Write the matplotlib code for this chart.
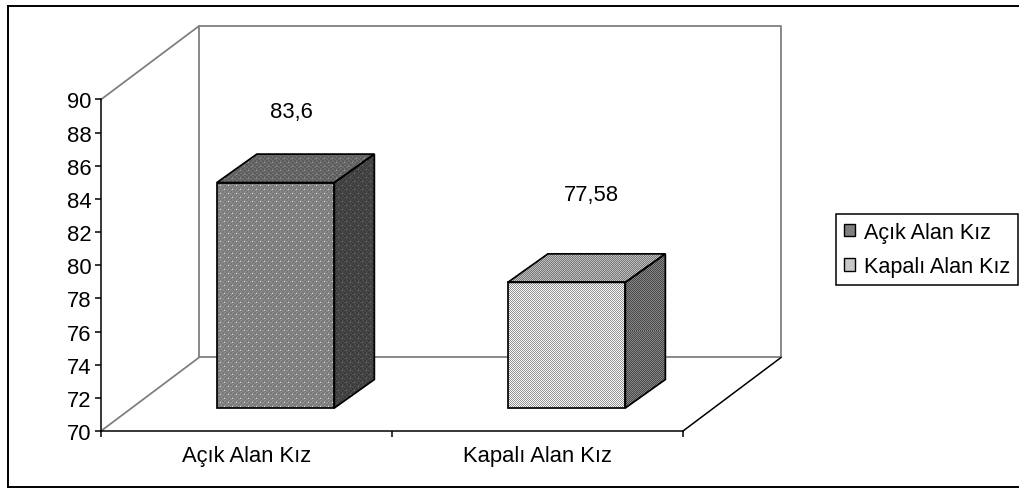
import numpy as np
import matplotlib
matplotlib.use("Agg")
import matplotlib.pyplot as plt
from matplotlib.lines import Line2D
from matplotlib.patches import Patch, Polygon

categories = ["Açık Alan Kız", "Kapalı Alan Kız"]
values = [83.6, 77.58]
value_labels = ["83,6", "77,58"]
y_ticks = [70, 72, 74, 76, 78, 80, 82, 84, 86, 88, 90]

W, H = 1019, 489
AX_L, AX_R, AX_T, AX_B = 101, 683, 100.5, 432
C_WALL = "#808080"
C_LINE = "#000000"

# 3D look, in pixels
PX_X = (AX_R - AX_L) / 2
PX_Y = (AX_B - AX_T) / 20
WALL_DX, WALL_DY = 98 / PX_X, 73.5 / PX_Y
BAR_DX, BAR_DY = 40 / PX_X, 28.5 / PX_Y
BAR_W = 117.5 / PX_X
BAR_SHIFT = 0.1
BAR_LIFT = 23 / PX_Y
LABEL_OFFSET = [(16, 71), (25, 88)]

plt.rcParams.update({
    "font.family": "Liberation Sans", "font.size": 15.8,
})


def stipple(h, w, base, alt, dot):
    # gray weave with staggered light dots
    yy, xx = np.mgrid[0:h, 0:w]
    tex = np.where((xx // 2 + yy // 2) % 2 == 0, base, alt).astype(float)
    tex[(yy % 4 == 0) & (xx % 8 == yy % 8)] = dot
    return tex


def checker(h, w, low, high):
    yy, xx = np.mgrid[0:h, 0:w]
    tex = np.where((xx + yy) % 2 == 0, high, low).astype(float)
    return tex


def face(ax, verts, tex_fn, *args):
    # polygon filled with a pixel texture, then outlined
    verts = np.array(verts)
    # snap the image extent to whole pixels so the texture is not resampled
    px0 = np.floor(verts[:, 0].min() * PX_X)
    px1 = np.ceil(verts[:, 0].max() * PX_X)
    py0 = np.floor((verts[:, 1].min() - 70) * PX_Y)
    py1 = np.ceil((verts[:, 1].max() - 70) * PX_Y)
    extent = (px0 / PX_X, px1 / PX_X, 70 + py0 / PX_Y, 70 + py1 / PX_Y)
    outline = Polygon(verts, closed=True, fc="none", ec=C_LINE, lw=1.25,
                      joinstyle="miter", clip_on=False, zorder=5)
    ax.add_patch(outline)
    im = ax.imshow(tex_fn(int(py1 - py0), int(px1 - px0), *args), cmap="gray", vmin=0, vmax=255,
                   extent=extent, aspect="auto",
                   interpolation="nearest", zorder=4)
    im.set_clip_path(Polygon(verts, closed=True, transform=ax.transData))


def draw_bar(ax, x, val, front, top, side):
    x0, x1 = x - BAR_W / 2, x + BAR_W / 2
    y0, y1 = 70 + BAR_LIFT, val + BAR_LIFT
    face(ax, [(x1, y0), (x1 + BAR_DX, y0 + BAR_DY), (x1 + BAR_DX, y1 + BAR_DY), (x1, y1)], *side)
    face(ax, [(x0, y1), (x0 + BAR_DX, y1 + BAR_DY), (x1 + BAR_DX, y1 + BAR_DY), (x1, y1)], *top)
    face(ax, [(x0, y0), (x1, y0), (x1, y1), (x0, y1)], *front)


fig = plt.figure(figsize=(W / 100, H / 100), dpi=100, facecolor="white")

# outer frame, open on the right
frame = dict(color=C_LINE, lw=1.4, transform=fig.transFigure)
fig.add_artist(Line2D([8 / W, 8 / W], [1 - 7 / H, 1 - 488 / H], **frame))
fig.add_artist(Line2D([8 / W, 1], [1 - 7 / H, 1 - 7 / H], **frame))
fig.add_artist(Line2D([8 / W, 1], [1 - 488 / H, 1 - 488 / H], **frame))

ax = fig.add_axes([AX_L / W, 1 - AX_B / H, (AX_R - AX_L) / W, (AX_B - AX_T) / H])
ax.patch.set_visible(False)

# back walls and floor
wall = dict(color=C_WALL, lw=1.3, clip_on=False, zorder=1)
ax.plot([0, WALL_DX, WALL_DX, 0], [70, 70 + WALL_DY, 90 + WALL_DY, 90], **wall)
ax.plot([WALL_DX, 2 + WALL_DX, 2 + WALL_DX, WALL_DX],
        [90 + WALL_DY, 90 + WALL_DY, 70 + WALL_DY, 70 + WALL_DY], **wall)
ax.plot([2, 2 + WALL_DX], [70, 70 + WALL_DY], color=C_LINE, lw=1.1, clip_on=False, zorder=1)

positions = np.arange(len(categories)) + 0.5
styles = [
    dict(front=(stipple, 122, 138, 225), top=(stipple, 92, 110, 165), side=(stipple, 60, 74, 125)),
    dict(front=(checker, 145, 250), top=(checker, 120, 190), side=(checker, 72, 135)),
]
for x, val, lab, (off_x, off_y), st in zip(positions, values, value_labels, LABEL_OFFSET, styles):
    draw_bar(ax, x + BAR_SHIFT, val, **st)
    ax.annotate(lab, (x + BAR_SHIFT, val + BAR_LIFT), xytext=(off_x * 0.72, off_y * 0.72),
                textcoords="offset points", ha="center", va="center",
                annotation_clip=False, zorder=6)

ax.set_xlim(0, 2)
ax.set_ylim(70, 90)
ax.set_yticks(y_ticks)
ax.set_xticks([0, 1, 2])
ax.set_xticklabels([])
for x, cat in zip(positions, categories):
    ax.annotate(cat, (x, 70), xytext=(0, -17.5), textcoords="offset points",
                ha="center", va="center", annotation_clip=False)
for side in ["top", "right"]:
    ax.spines[side].set_visible(False)
for side in ["left", "bottom"]:
    ax.spines[side].set_linewidth(1.1)
    ax.spines[side].set_zorder(3)
ax.tick_params(length=4, width=1.1, pad=3)

handles = [Patch(fc="#808080", ec=C_LINE, lw=1.0), Patch(fc="#c8c8c8", ec=C_LINE, lw=1.0)]
leg = fig.legend(handles, categories, loc="upper left", fontsize=15.6,
                 bbox_to_anchor=(836 / W, 1 - 215 / H), bbox_transform=fig.transFigure,
                 frameon=True, fancybox=False, edgecolor=C_LINE, framealpha=1,
                 handlelength=0.5, handleheight=0.5, handletextpad=0.42,
                 borderaxespad=0, borderpad=0.36, labelspacing=0.62)
leg.get_frame().set_linewidth(1.1)

fig.savefig("out.png", dpi=100)
plt.close(fig)
